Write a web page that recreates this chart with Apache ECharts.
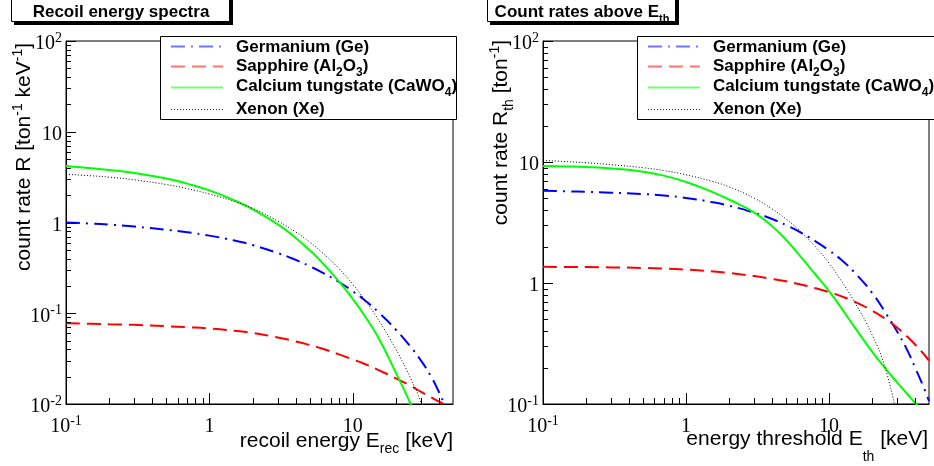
<!DOCTYPE html>
<html>
<head>
<meta charset="utf-8">
<script src="https://cdn.jsdelivr.net/npm/echarts@6/dist/echarts.min.js"></script>
<style>
  html, body { margin: 0; padding: 0; background: #fff; }
  #chart { width: 934px; height: 466px; }
</style>
</head>
<body>
<div id="chart"></div>
<script>
// Energies (keV) at which every curve is tabulated
const energyGrid = [0.1, 0.15, 0.2, 0.3, 0.5, 0.7, 1, 1.5, 2, 3, 4, 5, 6, 8, 10, 12, 15, 20, 25, 30, 35, 40, 45, 50];

// Differential recoil spectra R [ton^-1 keV^-1]
const spectrumGe     = [1.0, 0.973, 0.947, 0.902, 0.832, 0.781, 0.717, 0.632, 0.564, 0.461, 0.387, 0.330, 0.286, 0.221, 0.1747, 0.1407, 0.1039, 0.0658, 0.0437, 0.0299, 0.0203, 0.0134, 0.00855, 0.005];
const spectrumAl2O3  = [0.0774, 0.0765, 0.0757, 0.0745, 0.072, 0.0702, 0.068, 0.0641, 0.0607, 0.054, 0.0489, 0.0447, 0.0412, 0.0352, 0.031, 0.0278, 0.0238, 0.0192, 0.016, 0.0136, 0.0119, 0.0106, 0.0096, 0.0087];
const spectrumCaWO4  = [4.2, 3.96, 3.8, 3.52, 3.05, 2.68, 2.26, 1.75, 1.40, 0.955, 0.676, 0.495, 0.373, 0.225, 0.1435, 0.0955, 0.0546, 0.022, 0.0105, 0.0056, null, null, null, null];
const spectrumXe     = [3.40, 3.27, 3.16, 2.95, 2.62, 2.36, 2.06, 1.70, 1.43, 1.04, 0.785, 0.609, 0.48, 0.311, 0.208, 0.1436, 0.0861, 0.0399, 0.020, 0.0101, 0.004, null, null, null];

// Integrated count rates above threshold R_th [ton^-1]
const rateGe    = [5.78, 5.72, 5.67, 5.58, 5.44, 5.29, 5.05, 4.68, 4.36, 3.81, 3.38, 3.01, 2.71, 2.22, 1.86, 1.578, 1.23, 0.83, 0.56, 0.395, 0.283, 0.2, 0.145, 0.106];
const rateAl2O3 = [1.36, 1.356, 1.353, 1.346, 1.332, 1.317, 1.291, 1.25, 1.211, 1.14, 1.082, 1.033, 0.987, 0.907, 0.841, 0.782, 0.704, 0.592, 0.501, 0.427, 0.363, 0.31, 0.2665, 0.2286];
const rateCaWO4 = [9.27, 9.19, 9.09, 8.84, 8.31, 7.72, 6.84, 5.70, 4.90, 3.82, 2.94, 2.28, 1.78, 1.184, 0.856, 0.638, 0.436, 0.271, 0.194, 0.1504, 0.1221, 0.102, 0.0867, 0.0748];
const rateXe    = [10.3, 10.06, 9.85, 9.50, 8.97, 8.50, 7.84, 6.95, 6.23, 5.02, 4.09, 3.38, 2.82, 2.00, 1.457, 1.07, 0.703, 0.374, 0.19, 0.075, null, null, null, null];

// Axis ranges
const energyRange = [0.1, 50];
const spectrumRange = [0.01, 100];
const rateRange = [0.1, 100];

// Decade tick values and their labels (mantissa^exponent)
const xTickValues = [0.1, 1, 10];
const xTickText = ['10^-1', '1', '10'];
const ySpecTickValues = [0.01, 0.1, 1, 10, 100];
const ySpecTickText = ['10^-2', '10^-1', '1', '10', '10^2'];
const yRateTickValues = [0.1, 1, 10, 100];
const yRateTickText = ['10^-1', '1', '10', '10^2'];

// Minor (2..9 x decade) tick values
const xMinorTicks = [0.2, 0.3, 0.4, 0.5, 0.6, 0.7, 0.8, 0.9, 2, 3, 4, 5, 6, 7, 8, 9, 20, 30, 40];
const ySpecMinorTicks = [0.02, 0.03, 0.04, 0.05, 0.06, 0.07, 0.08, 0.09, 0.2, 0.3, 0.4, 0.5, 0.6, 0.7, 0.8, 0.9,
  2, 3, 4, 5, 6, 7, 8, 9, 20, 30, 40, 50, 60, 70, 80, 90];
const yRateMinorTicks = [0.2, 0.3, 0.4, 0.5, 0.6, 0.7, 0.8, 0.9, 2, 3, 4, 5, 6, 7, 8, 9, 20, 30, 40, 50, 60, 70, 80, 90];

// Materials: legend text (rich markup) and line styles
const legendText = [
  '{b|Germanium (Ge)}',
  '{b|Sapphire (Al}{sub|2}{b|O}{sub|3}{b|)}',
  '{b|Calcium tungstate (CaWO}{sub|4}{b|)}',
  '{b|Xenon (Xe)}'
];
const materialNames = ['Germanium (Ge)', 'Sapphire (Al2O3)', 'Calcium tungstate (CaWO4)', 'Xenon (Xe)'];
const materialColors = ['#0000ff', '#ff0000', '#00ff00', '#000000'];
const materialDash = [[14, 6, 2, 6], [14, 7], 'solid', [1, 2]];
const materialWidth = [2, 2, 2, 1];

const SERIF = 'Liberation Serif';
const SANS = 'Liberation Sans';

const tickRich = {
  b: { fontFamily: SERIF, fontSize: 20, lineHeight: 26, color: '#000' },
  s: { fontFamily: SERIF, fontSize: 14, lineHeight: 14, verticalAlign: 'top', color: '#000' }
};

function tickFormatter(values, texts) {
  return function (v) {
    for (let i = 0; i < values.length; i++) {
      if (Math.abs(v / values[i] - 1) < 1e-6) {
        const parts = texts[i].split('^');
        return parts.length > 1 ? '{b|' + parts[0] + '}{s|' + parts[1] + '}' : '{b|' + parts[0] + '}';
      }
    }
    return '';
  };
}

function logXAxis(gridIndex) {
  return {
    type: 'log', logBase: 10, gridIndex: gridIndex,
    min: energyRange[0], max: energyRange[1],
    axisLine: { show: true, lineStyle: { color: '#000', width: 1 } },
    axisTick: { show: false }, minorTick: { show: false },
    splitLine: { show: false },
    axisLabel: { margin: 10, formatter: tickFormatter(xTickValues, xTickText), rich: tickRich }
  };
}

function logYAxis(gridIndex, range, values, texts) {
  return {
    type: 'log', logBase: 10, gridIndex: gridIndex,
    min: range[0], max: range[1],
    axisLine: { show: true, lineStyle: { color: '#000', width: 1 } },
    axisTick: { show: false }, minorTick: { show: false },
    splitLine: { show: false },
    axisLabel: { margin: 4, padding: [6, 0, 0, 0], formatter: tickFormatter(values, texts), rich: tickRich }
  };
}

// Inside tick marks drawn on the bottom and left axes through the axis scales
function tickSeries(gridIndex, yRange, xMajor, xMinor, yMajor, yMinor) {
  const data = [];
  xMajor.forEach(v => data.push([v, yRange[0], 0, 1]));
  xMinor.forEach(v => data.push([v, yRange[0], 0, 0]));
  yMajor.forEach(v => data.push([energyRange[0], v, 1, 1]));
  yMinor.forEach(v => data.push([energyRange[0], v, 1, 0]));
  return {
    type: 'custom', xAxisIndex: gridIndex, yAxisIndex: gridIndex, silent: true, z: 6,
    renderItem: function (params, api) {
      const p = api.coord([api.value(0), api.value(1)]);
      const onX = api.value(2) === 0;
      const major = api.value(3) === 1;
      if (onX) {
        const len = major ? 11 : 6;
        const x = Math.round(p[0]) + 0.5;
        return { type: 'line', shape: { x1: x, y1: p[1], x2: x, y2: p[1] - len }, style: { stroke: '#000', lineWidth: 1 } };
      }
      const len = major ? 10 : 5;
      const y = Math.round(p[1]) + 0.5;
      return { type: 'line', shape: { x1: p[0], y1: y, x2: p[0] + len, y2: y }, style: { stroke: '#000', lineWidth: 1 } };
    },
    data: data
  };
}

function curve(gridIndex, k, values) {
  return {
    type: 'line', name: materialNames[k], xAxisIndex: gridIndex, yAxisIndex: gridIndex,
    data: energyGrid.map((e, i) => [e, values[i]]),
    showSymbol: false, symbol: 'none', smooth: 0.5, clip: true,
    lineStyle: { color: materialColors[k], width: materialWidth[k], type: materialDash[k] },
    z: 3 + k * 0.01, silent: true
  };
}

// Legend panel with line samples and labels
function legendBox(left, width) {
  const rowsLine = [46.5, 66.5, 87.5, 109.5];
  const rowsText = [47.5, 66.5, 86.5, 109];
  const children = [{
    type: 'rect', shape: { x: left + 0.5, y: 36.5, width: width, height: 83 },
    style: { fill: '#fff', stroke: '#000', lineWidth: 1 }
  }];
  for (let k = 0; k < 4; k++) {
    const dash = materialDash[k] === 'solid' ? null : materialDash[k];
    children.push({
      type: 'line', shape: { x1: left + 11, y1: rowsLine[k], x2: left + 63, y2: rowsLine[k] },
      style: { stroke: materialColors[k], lineWidth: materialWidth[k], lineDash: dash, opacity: k === 3 ? 0.8 : 0.55 }
    });
    children.push({
      type: 'text', x: left + 76, y: rowsText[k],
      style: {
        text: legendText[k], textAlign: 'left', textVerticalAlign: 'middle',
        rich: {
          b: { fontFamily: SANS, fontWeight: 'bold', fontSize: 17, lineHeight: 24, fill: '#000' },
          sub: { fontFamily: SANS, fontWeight: 'bold', fontSize: 12, lineHeight: 4, verticalAlign: 'bottom', fill: '#000' }
        }
      }
    });
  }
  return { type: 'group', children: children };
}

// Header box with a drop shadow
function headerBox(x0, x1, text) {
  return {
    type: 'group',
    children: [
      { type: 'rect', shape: { x: x0 + 3, y: -5, width: x1 - x0 + 1, height: 30 }, style: { fill: '#000' } },
      { type: 'rect', shape: { x: x0 + 0.5, y: -6.5, width: x1 - x0, height: 28 }, style: { fill: '#fff', stroke: '#000', lineWidth: 1 } },
      {
        type: 'text', x: (x0 + x1) / 2 + 1, y: 12,
        style: {
          text: text, textAlign: 'center', textVerticalAlign: 'middle',
          rich: {
            b: { fontFamily: SANS, fontWeight: 'bold', fontSize: 17, lineHeight: 24, fill: '#000' },
            sub: { fontFamily: SANS, fontWeight: 'bold', fontSize: 11, lineHeight: 10, verticalAlign: 'bottom', fill: '#000' }
          }
        }
      }
    ]
  };
}

const axisTitleRich = {
  n: { fontFamily: SANS, fontSize: 21, lineHeight: 28, fill: '#000' },
  sup: { fontFamily: SANS, fontSize: 14, lineHeight: 14, verticalAlign: 'top', fill: '#000' },
  sub: { fontFamily: SANS, fontSize: 14, lineHeight: 10, verticalAlign: 'bottom', fill: '#000' }
};

const chart = echarts.init(document.getElementById('chart'), null, { renderer: 'canvas' });

chart.setOption({
  animation: false,
  backgroundColor: '#fff',
  grid: [
    { left: 66, top: 41, width: 387, height: 363, show: true, borderColor: '#000', borderWidth: 1, backgroundColor: 'transparent' },
    { left: 543, top: 41, width: 386, height: 363, show: true, borderColor: '#000', borderWidth: 1, backgroundColor: 'transparent' }
  ],
  xAxis: [logXAxis(0), logXAxis(1)],
  yAxis: [
    logYAxis(0, spectrumRange, ySpecTickValues, ySpecTickText),
    logYAxis(1, rateRange, yRateTickValues, yRateTickText)
  ],
  series: [
    curve(0, 0, spectrumGe), curve(0, 1, spectrumAl2O3), curve(0, 2, spectrumCaWO4), curve(0, 3, spectrumXe),
    curve(1, 0, rateGe), curve(1, 1, rateAl2O3), curve(1, 2, rateCaWO4), curve(1, 3, rateXe),
    tickSeries(0, spectrumRange, xTickValues, xMinorTicks, ySpecTickValues, ySpecMinorTicks),
    tickSeries(1, rateRange, xTickValues, xMinorTicks, yRateTickValues, yRateMinorTicks)
  ],
  graphic: [
    headerBox(11, 229, '{b|Recoil energy spectra}'),
    headerBox(487, 675, '{b|Count rates above E}{sub|th}'),
    legendBox(160, 296),
    legendBox(637, 300),
    {
      type: 'text', x: 24.7, y: 43, rotation: Math.PI / 2,
      style: { text: '{n|count rate R [ton}{sup|-1}{n| keV}{sup|-1}{n|]}', textAlign: 'right', textVerticalAlign: 'middle', rich: axisTitleRich }
    },
    {
      type: 'text', x: 453, y: 426,
      style: {
        text: '{n|recoil energy E}{sub|rec}{n| [keV]}', textAlign: 'right', textVerticalAlign: 'top',
        rich: {
          n: { fontFamily: SANS, fontSize: 21, lineHeight: 30, fill: '#000' },
          sub: { fontFamily: SANS, fontSize: 14, lineHeight: 5, verticalAlign: 'bottom', fill: '#000' }
        }
      }
    },
    {
      type: 'text', x: 501.7, y: 40, rotation: Math.PI / 2,
      style: { text: '{n|count rate R}{sub|th}{n| [ton}{sup|-1}{n|]}', textAlign: 'right', textVerticalAlign: 'middle', rich: axisTitleRich }
    },
    {
      type: 'text', x: 928, y: 414.4,
      style: {
        text: '{n|energy threshold E}{sub|th}{n| [keV]}', textAlign: 'right', textVerticalAlign: 'top',
        rich: {
          n: { fontFamily: SANS, fontSize: 21, lineHeight: 50, fill: '#000' },
          sub: { fontFamily: SANS, fontSize: 14, lineHeight: 7, verticalAlign: 'bottom', fill: '#000' }
        }
      }
    }
  ]
});
</script>
</body>
</html>
